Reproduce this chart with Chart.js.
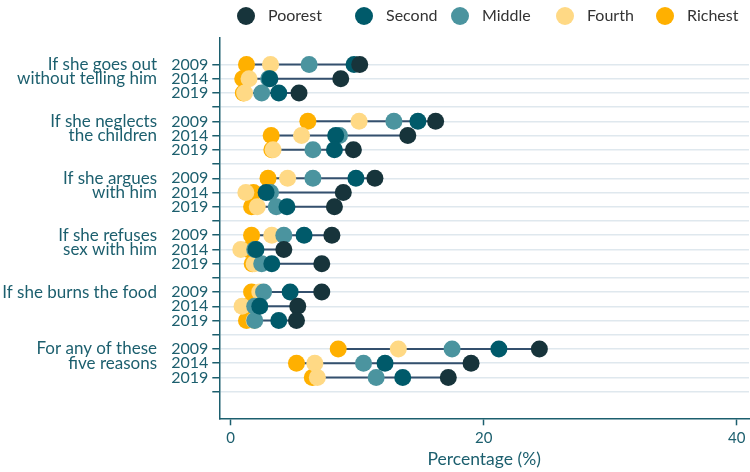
<!DOCTYPE html>
<html>
<head>
<meta charset="utf-8">
<script src="https://cdn.jsdelivr.net/npm/chart.js@4"></script>
<style>
body { margin: 0; background: #fff; }
#wrap { width: 750px; height: 472px; }
</style>
</head>
<body>
<div id="wrap"><canvas id="chartContainer"></canvas></div>
<script>
// categories
const groupLabels = [
    ['If she goes out', 'without telling him'],
    ['If she neglects', 'the children'],
    ['If she argues', 'with him'],
    ['If she refuses', 'sex with him'],
    ['If she burns the food'],
    ['For any of these', 'five reasons']
];
const years = ['2009', '2014', '2019'];
const seriesNames = ['Poorest', 'Second', 'Middle', 'Fourth', 'Richest'];
const seriesColors = ['#17343b', '#005a6a', '#4b949f', '#ffd985', '#ffb000'];

// values, 3 years per group in group order
const poorest = [10.2, 8.7, 5.4, 16.2, 14.0, 9.7, 11.4, 8.9, 8.2, 8.0, 4.2, 7.2, 7.2, 5.3, 5.2, 24.4, 19.0, 17.2];
const second = [9.75, 3.1, 3.8, 14.8, 8.3, 8.2, 9.9, 2.8, 4.45, 5.8, 2.0, 3.25, 4.7, 2.3, 3.8, 21.2, 12.2, 13.6];
const middle = [6.2, 3.0, 2.45, 12.9, 8.6, 6.5, 6.5, 3.15, 3.6, 4.2, 1.9, 2.45, 2.6, 1.9, 1.9, 17.5, 10.5, 11.5];
const fourth = [3.15, 1.45, 1.1, 10.15, 5.6, 3.35, 4.5, 1.2, 2.1, 3.25, 0.8, 1.85, 2.3, 0.9, 1.85, 13.25, 6.65, 6.85];
const richest = [1.25, 0.95, 1.0, 6.1, 3.2, 3.25, 2.95, 1.8, 1.65, 1.65, 1.4, 1.7, 1.65, 1.3, 1.25, 8.5, 5.2, 6.45];
const allSeries = [poorest, second, middle, fourth, richest];

const xTicks = [0, 20, 40];
const teal = '#1c5f6e';
const fontFam = 'Lato, "Open Sans", sans-serif';

function rowPos(i) {
    return Math.floor(i / 3) * 4 + (i % 3);
}

let datasets = [];
for (var s = 0; s < allSeries.length; s++) {
    datasets.push({
        label: seriesNames[s],
        data: allSeries[s].map((v, i) => ({ x: v, y: rowPos(i) })),
        backgroundColor: seriesColors[s],
        borderWidth: 0,
        pointRadius: 8.5,
        pointHoverRadius: 8.5
    });
}

// range line for every row, from lowest to highest quintile
let lineData = [];
for (var i = 0; i < poorest.length; i++) {
    let vals = allSeries.map(a => a[i]);
    lineData.push({ x: Math.min(...vals), y: rowPos(i) });
    lineData.push({ x: Math.max(...vals), y: rowPos(i) });
    lineData.push({ x: null, y: null });
}
datasets.push({
    label: 'range',
    data: lineData,
    showLine: true,
    spanGaps: false,
    borderColor: '#34506e',
    borderWidth: 2,
    pointRadius: 0
});

const groupLabelPlugin = {
    id: 'groupLabels',
    afterDraw(chart) {
        const ctx = chart.ctx;
        const y = chart.scales.y;
        ctx.save();
        ctx.font = '17px ' + fontFam;
        ctx.fillStyle = teal;
        ctx.textAlign = 'right';
        ctx.textBaseline = 'middle';
        groupLabels.forEach((lines, g) => {
            lines.forEach((txt, k) => {
                ctx.fillText(txt, 157, y.getPixelForValue(g * 4 + k));
            });
        });
        ctx.restore();
    }
};

const legendPlugin = {
    id: 'dotLegend',
    afterDraw(chart) {
        const ctx = chart.ctx;
        const xs = [246, 364, 460, 565, 665];
        ctx.save();
        ctx.font = '16px ' + fontFam;
        ctx.textBaseline = 'middle';
        ctx.textAlign = 'left';
        for (var s = 0; s < seriesNames.length; s++) {
            ctx.fillStyle = seriesColors[s];
            ctx.beginPath();
            ctx.arc(xs[s], 16, 9, 0, Math.PI * 2);
            ctx.fill();
            ctx.fillStyle = '#333';
            ctx.fillText(seriesNames[s], xs[s] + 22, 16);
        }
        ctx.restore();
    }
};

var ctx = document.getElementById('chartContainer').getContext('2d');
window.dotChart = new Chart(ctx, {
    type: 'scatter',
    data: { datasets: datasets },
    plugins: [groupLabelPlugin, legendPlugin],
    options: {
        responsive: true,
        maintainAspectRatio: false,
        animation: false,
        events: [],
        layout: { autoPadding: false, padding: { top: 37.7, right: 1, left: 0, bottom: 0 } },
        plugins: {
            legend: { display: false },
            tooltip: { enabled: false }
        },
        scales: {
            x: {
                type: 'linear',
                min: -0.9,
                max: 40.97,
                afterBuildTicks: (sc) => { sc.ticks = xTicks.map(v => ({ value: v })); },
                afterFit: (sc) => {
                    sc.height = 53.7;
                    sc.paddingLeft = 0;
                    sc.paddingRight = 0;
                },
                grid: { drawOnChartArea: false, drawTicks: true, tickLength: 7, tickColor: teal, tickWidth: 1.5 },
                border: { display: true, color: teal, width: 1.5 },
                ticks: { color: teal, font: { family: fontFam, size: 15 }, padding: 4 },
                title: {
                    display: true,
                    text: 'Percentage (%)',
                    color: teal,
                    font: { family: fontFam, size: 17.5 },
                    padding: { top: 0, bottom: 2 }
                }
            },
            y: {
                type: 'linear',
                reverse: true,
                min: -1.88,
                max: 24.87,
                afterBuildTicks: (sc) => {
                    let t = [];
                    for (var v = 0; v < groupLabels.length * 4; v++) t.push({ value: v });
                    sc.ticks = t;
                },
                afterFit: (sc) => {
                    sc.width = 219.3;
                    sc.paddingTop = 0;
                    sc.paddingBottom = 0;
                },
                grid: { color: '#dfe8ee', lineWidth: 1.5, tickColor: teal, tickLength: 7, tickWidth: 1.5 },
                border: { display: true, color: teal, width: 1.5 },
                ticks: {
                    color: teal,
                    font: { family: fontFam, size: 16 },
                    padding: 4,
                    autoSkip: false,
                    callback: function(value) {
                        let k = value % 4;
                        return k < 3 ? years[k] : '';
                    }
                }
            }
        }
    }
});
</script>
</body>
</html>
